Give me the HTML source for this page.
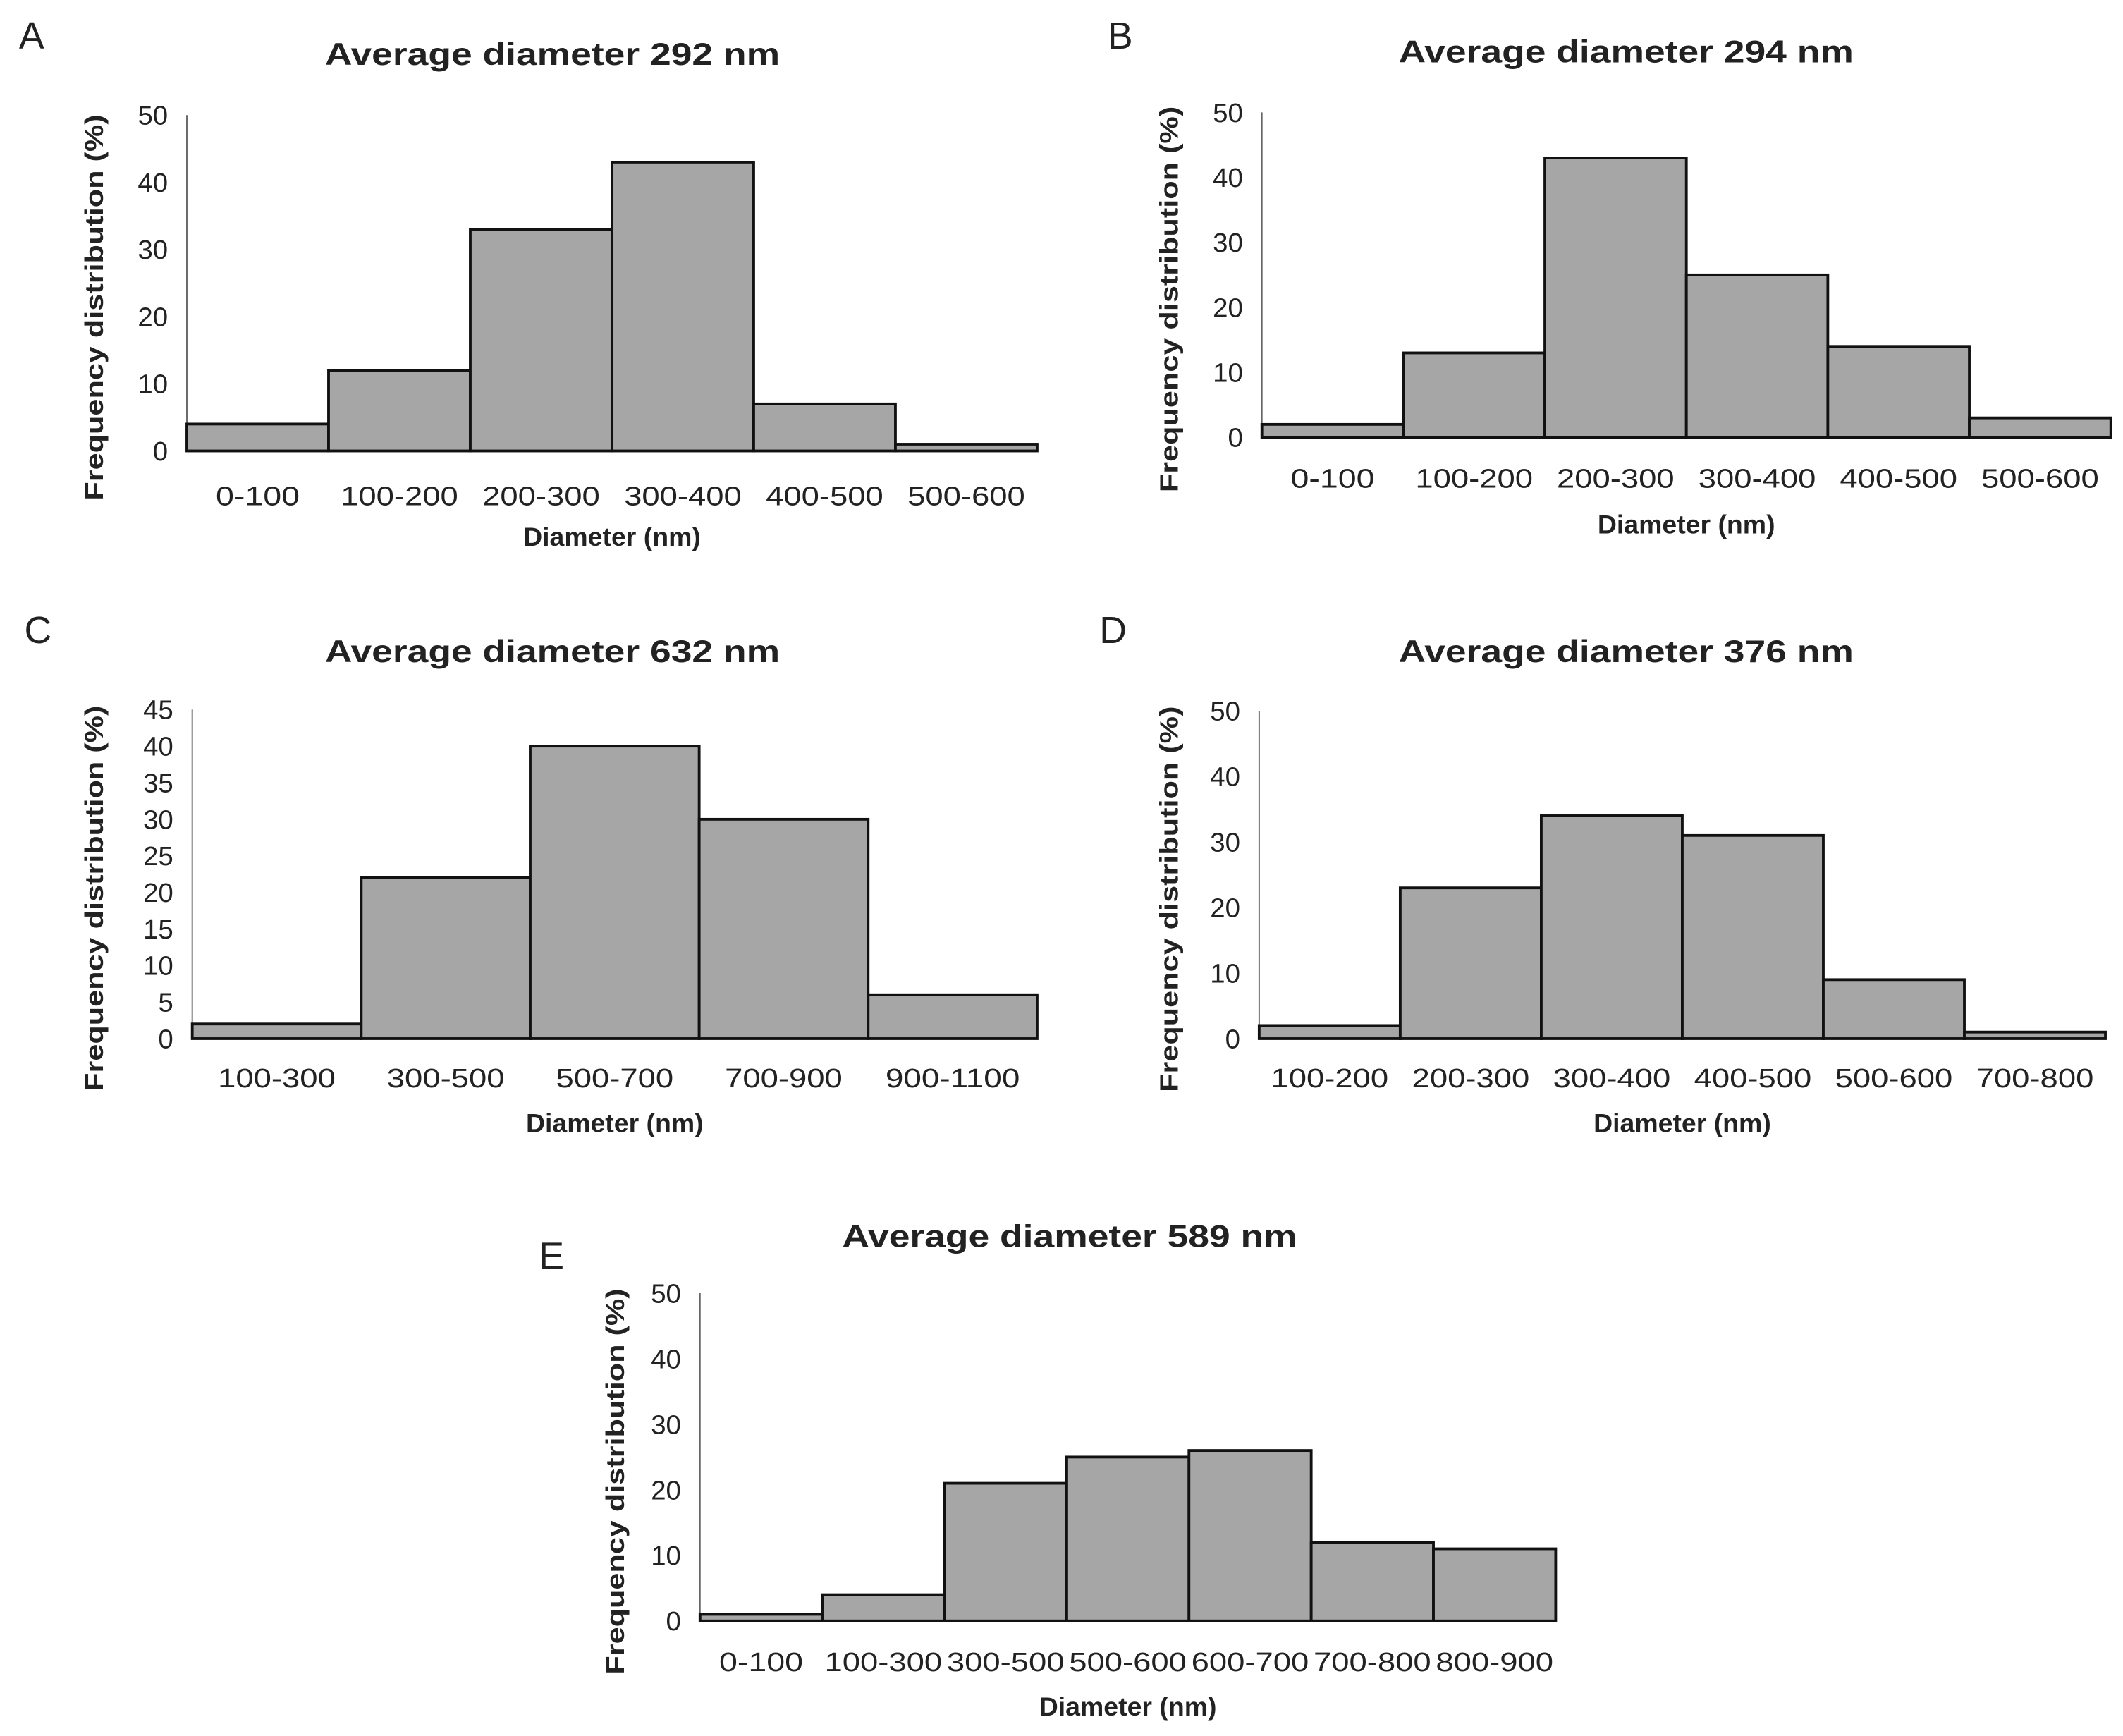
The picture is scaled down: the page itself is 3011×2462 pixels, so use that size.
<!DOCTYPE html>
<html><head><meta charset="utf-8"><style>
html,body{margin:0;padding:0;background:#fff}
svg{display:block}
text{font-family:"Liberation Sans",Arial,sans-serif;fill:#222}
</style></head><body>
<svg id="fig" width="3011" height="2462" viewBox="0 0 1568 1282" preserveAspectRatio="none" xmlns="http://www.w3.org/2000/svg"></svg>
<script>
const catsA=["0-100","100-200","200-300","300-400","400-500","500-600"];
const valsA=[4,12,33,43,7,1];
const catsB=["0-100","100-200","200-300","300-400","400-500","500-600"];
const valsB=[2,13,43,25,14,3];
const catsC=["100-300","300-500","500-700","700-900","900-1100"];
const valsC=[2,22,40,30,6];
const catsD=["100-200","200-300","300-400","400-500","500-600","700-800"];
const valsD=[2,23,34,31,9,1];
const catsE=["0-100","100-300","300-500","500-600","600-700","700-800","800-900"];
const valsE=[1,4,21,25,26,12,11];
const ticksA=[0,10,20,30,40,50];
const ticksC=[0,5,10,15,20,25,30,35,40,45];
const titles=["Average diameter 292 nm","Average diameter 294 nm","Average diameter 632 nm","Average diameter 376 nm","Average diameter 589 nm"];

const NS="http://www.w3.org/2000/svg";
const svg=document.getElementById('fig');
function mk(tag,attrs,parent){const e=document.createElementNS(NS,tag);for(const k in attrs)e.setAttribute(k,attrs[k]);(parent||svg).appendChild(e);return e;}

function panel(id,letter,lx,ly,title,tx,ty,cats,vals,ticks,x0,x1,yTop,yZero,labY,xtY,ytX){
  const g=mk('g',{});
  
  
  const L=mk('text',{x:lx,y:ly,'font-size':28},g);L.textContent=letter;
  
  
  const T=mk('text',{x:tx,y:ty,'font-size':23,'font-weight':'bold','text-anchor':'middle',textLength:336,lengthAdjust:'spacingAndGlyphs'},g);T.textContent=title;
  
  
  const max=ticks[ticks.length-1];
  const ys=v=>yZero-(v/max)*(yZero-yTop);
  const bw=(x1-x0)/cats.length;
  const xs=i=>x0+i*bw;
  ticks.forEach(t=>{const e=mk('text',{x:x0-14,y:ys(t)+7,'font-size':20,'text-anchor':'end'},g);e.textContent=t;
    
    });
  const ax=mk('line',{x1:x0,y1:yTop,x2:x0,y2:yZero,stroke:'#666','stroke-width':1},g);
  
  
  cats.forEach((c,i)=>{
    const r=mk('rect',{x:xs(i),y:ys(vals[i]),width:bw,height:yZero-ys(vals[i]),fill:'#a6a6a6',stroke:'#111','stroke-width':2},g);
    
    
    const t=mk('text',{x:xs(i)+bw/2,y:labY,'font-size':20,'text-anchor':'middle',textLength:c.length*12.4,lengthAdjust:'spacingAndGlyphs'},g);t.textContent=c;
    
    
  });
  const xt=mk('text',{x:(x0+x1)/2,y:xtY,'font-size':19.5,'font-weight':'bold','text-anchor':'middle'},g);xt.textContent=(id==='a'?'Diameter  (nm)':'Diameter (nm)');
  
  
  const cy=(yTop+yZero)/2+18;
  const yt=mk('text',{x:ytX,y:cy,'font-size':19,'font-weight':'bold','text-anchor':'middle',transform:`rotate(-90 ${ytX} ${cy})`,textLength:285,lengthAdjust:'spacingAndGlyphs'},g);yt.textContent='Frequency distribution  (%)';
  
  
}
panel('a','A',14,36,titles[0],408,48,catsA,valsA,ticksA,138,766,85,333,373,403,76);
panel('b','B',818,36,titles[1],1201,46,catsB,valsB,ticksA,932,1559,83,323,360,394,870);
panel('c','C',18,475,titles[2],408,489,catsC,valsC,ticksC,142,766,524,767,803,836,76);
panel('d','D',812,475,titles[3],1201,489,catsD,valsD,ticksA,930,1555,525,767,803,836,870);
panel('e','E',398,937,titles[4],790,921,catsE,valsE,ticksA,517,1149,955,1197,1234,1267,461);
</script>
</body></html>
